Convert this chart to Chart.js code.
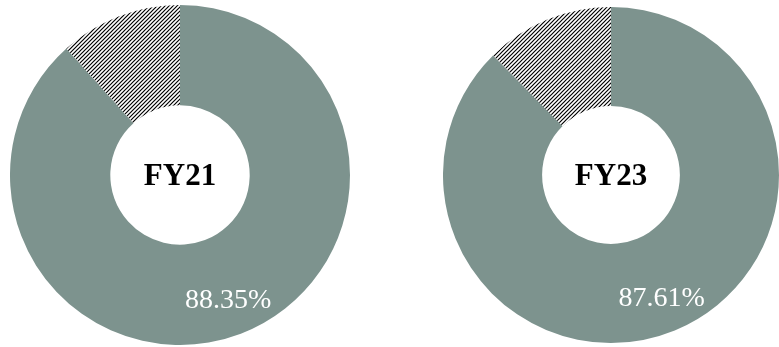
<!DOCTYPE html>
<html>
<head>
<meta charset="utf-8">
<script src="https://cdn.jsdelivr.net/npm/chart.js@4.4.0/dist/chart.umd.min.js"></script>
<style>
  html, body { margin: 0; padding: 0; background: #ffffff; overflow: hidden; }
  body { width: 779px; height: 347px; position: relative; }
  .box { position: absolute; }
  #b1 { left: 10px; top: 5px; width: 340px; height: 340px; }
  #b2 { left: 443px; top: 7px; width: 336px; height: 336px; }
</style>
</head>
<body>
<div class="box" id="b1"><canvas id="c1"></canvas></div>
<div class="box" id="b2"><canvas id="c2"></canvas></div>
<script>
// values
var anios = ["FY21", "FY23"];
var etiquetas = ["Share", "Other"];
var valoresFY21 = [88.35, 11.65];
var valoresFY23 = [87.61, 12.39];

var verde = "#7d938e";

// rayado diagonal negro sobre blanco
function rayado() {
  var c = document.createElement("canvas");
  c.width = 4; c.height = 4;
  var g = c.getContext("2d");
  g.fillStyle = "#ffffff";
  g.fillRect(0, 0, 4, 4);
  g.strokeStyle = "#000000";
  g.lineWidth = 1.2;
  g.beginPath();
  g.moveTo(0, 4); g.lineTo(4, 0);
  g.moveTo(-1, 1); g.lineTo(1, -1);
  g.moveTo(3, 5); g.lineTo(5, 3);
  g.stroke();
  return g.createPattern(c, "repeat");
}

// texto central y porcentaje sobre el arco
const textos = {
  id: "textos",
  afterDatasetsDraw(chart, args, opts) {
    var ctx = chart.ctx;
    var arc = chart.getDatasetMeta(0).data[0];
    var cx = arc.x, cy = arc.y;
    ctx.save();
    ctx.textAlign = "center";
    ctx.textBaseline = "middle";
    ctx.fillStyle = "#000000";
    ctx.font = "bold 31px 'Liberation Serif'";
    ctx.fillText(opts.centro, cx, cy + 2);
    var ang = (arc.startAngle + arc.endAngle) / 2;
    var r = arc.innerRadius + 0.65 * (arc.outerRadius - arc.innerRadius);
    ctx.fillStyle = "#ffffff";
    ctx.font = "28px 'Liberation Serif'";
    var v = chart.data.datasets[0].data[0];
    ctx.fillText(v.toFixed(2) + "%", cx + Math.cos(ang) * r, cy + Math.sin(ang) * r);
    ctx.restore();
  }
};

function dona(id, valores, nombre) {
  var ctx = document.getElementById(id).getContext("2d");
  return new Chart(ctx, {
    type: "doughnut",
    data: {
      labels: etiquetas,
      datasets: [{
        data: valores,
        backgroundColor: [verde, rayado()],
        borderWidth: 0
      }]
    },
    options: {
      responsive: true,
      maintainAspectRatio: false,
      animation: false,
      cutout: "41%",
      layout: { padding: 0 },
      plugins: {
        legend: { display: false },
        tooltip: { enabled: false },
        textos: { centro: nombre }
      }
    },
    plugins: [textos]
  });
}

dona("c1", valoresFY21, anios[0]);
dona("c2", valoresFY23, anios[1]);
</script>
</body>
</html>
